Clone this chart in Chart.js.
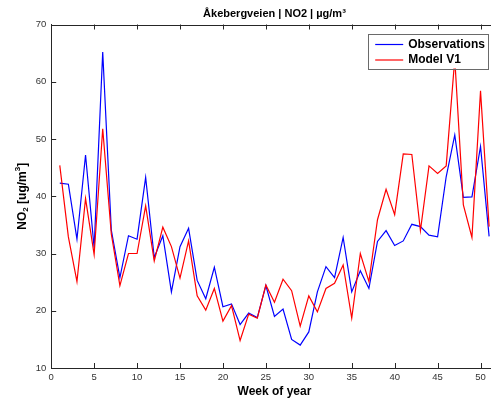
<!DOCTYPE html>
<html>
<head>
<meta charset="utf-8">
<script src="https://cdn.jsdelivr.net/npm/chart.js@4.4.1/dist/chart.umd.min.js"></script>
<style>
  html, body { margin: 0; padding: 0; background: #fff; overflow: hidden; }
  #wrap { width: 500px; height: 402px; }
</style>
</head>
<body>
<div id="wrap"><canvas id="c" width="500" height="402"></canvas></div>
<script>
// weekly NO2 means, Åkebergveien
const weeks = [1,2,3,4,5,6,7,8,9,10,11,12,13,14,15,16,17,18,19,20,21,22,23,24,25,26,
  27,28,29,30,31,32,33,34,35,36,37,38,39,40,41,42,43,44,45,46,47,48,49,50,51];
const observations = [42.3,42.1,32.5,47.2,31.0,65.2,34.1,25.8,33.1,32.5,43.3,29.3,33.1,23.3,31.2,34.4,
  25.3,22.1,27.6,20.7,21.2,17.6,19.6,18.8,24.4,19.0,20.3,15.0,14.0,16.3,23.3,27.7,25.8,32.8,
  23.3,27.0,23.9,32.1,34.0,31.4,32.2,35.1,34.7,33.2,32.9,43.4,50.7,39.8,39.9,48.7,33.0];
const modelV1 = [45.4,32.9,25.1,39.6,29.8,51.8,33.4,24.4,30.0,30.0,38.3,28.7,34.6,31.2,25.7,32.2,
  22.6,20.1,23.9,18.2,20.9,14.8,19.4,18.7,24.5,21.5,25.5,23.5,17.3,22.6,19.8,23.9,24.8,28.0,
  18.7,30.0,25.1,35.9,41.2,36.8,47.4,47.3,34.0,45.3,44.0,45.3,64.0,38.5,32.8,58.4,34.7];
const seriesNames = ['Observations', 'Model V1'];

const toXY = (vals) => vals.map((v, i) => ({x: weeks[i], y: v}));
const axisColor = '#262626';

// matlab style: box on top, ticks pointing inward
const boxTicks = {
  id: 'boxTicks',
  afterDraw(chart) {
    const {ctx, chartArea: a, scales: {x, y}} = chart;
    ctx.save();
    ctx.strokeStyle = axisColor;
    ctx.lineWidth = 1;
    ctx.beginPath();
    ctx.moveTo(a.left, Math.round(a.top) + 0.5);
    ctx.lineTo(a.right, Math.round(a.top) + 0.5);
    x.ticks.forEach(t => {
      const px = Math.round(x.getPixelForValue(t.value)) + 0.5;
      ctx.moveTo(px, a.bottom); ctx.lineTo(px, a.bottom - 5);
      ctx.moveTo(px, a.top); ctx.lineTo(px, a.top + 5);
    });
    y.ticks.forEach(t => {
      const py = Math.round(y.getPixelForValue(t.value)) + 0.5;
      ctx.moveTo(a.left, py); ctx.lineTo(a.left + 5, py);
    });
    ctx.stroke();

    // legend box inside the axes, top right
    const w = 120, h = 35;
    const lx = a.right - 9.5 - w, ly = a.top + 9;
    ctx.fillStyle = '#fff';
    ctx.fillRect(lx, ly, w, h);
    ctx.strokeStyle = '#6a6a6a';
    ctx.strokeRect(Math.round(lx) + 0.5, Math.round(ly) + 0.5, w, h);
    ctx.font = 'bold 12px "Liberation Sans", Arial, sans-serif';
    ctx.textBaseline = 'middle';
    chart.data.datasets.forEach((ds, i) => {
      const ry = ly + 11 + i * 15.5;
      ctx.strokeStyle = ds.borderColor;
      ctx.lineWidth = 1.2;
      ctx.beginPath();
      ctx.moveTo(lx + 7, ry); ctx.lineTo(lx + 35, ry);
      ctx.stroke();
      ctx.fillStyle = '#000';
      ctx.fillText(ds.label, lx + 40, ry);
    });

    // y label with sub/superscript
    const cy = (a.top + a.bottom) / 2;
    ctx.translate(23, cy);
    ctx.rotate(-Math.PI / 2);
    const big = 'bold 12px "Liberation Sans", Arial, sans-serif';
    const small = 'bold 8px "Liberation Sans", Arial, sans-serif';
    const parts = [['NO', big, 0], ['2', small, 3], [' [ug/m', big, 0], ['3', small, -5], [']', big, 0]];
    let total = 0;
    parts.forEach(p => { ctx.font = p[1]; total += ctx.measureText(p[0]).width; });
    let cx = -total / 2;
    ctx.fillStyle = '#000';
    ctx.textBaseline = 'middle';
    parts.forEach(p => {
      ctx.font = p[1];
      ctx.fillText(p[0], cx, p[2]);
      cx += ctx.measureText(p[0]).width;
    });
    ctx.restore();
  }
};

new Chart(document.getElementById('c'), {
  type: 'line',
  data: {
    datasets: [
      { label: seriesNames[0], data: toXY(observations), borderColor: '#0000ff', borderWidth: 1.2,
        pointRadius: 0, tension: 0, order: 2 },
      { label: seriesNames[1], data: toXY(modelV1), borderColor: '#ff0000', borderWidth: 1.2,
        pointRadius: 0, tension: 0, order: 1 }
    ]
  },
  options: {
    responsive: false,
    animation: false,
    devicePixelRatio: 1,
    layout: { padding: { left: 0, right: 2.3, top: 0, bottom: 0 } },
    plugins: {
      legend: { display: false },
      tooltip: { enabled: false },
      title: {
        display: true,
        fullSize: false,
        text: 'Åkebergveien | NO2 | µg/m³',
        color: '#000',
        font: { family: '"Liberation Sans", Arial, sans-serif', size: 11, weight: 'bold' },
        padding: { top: 7, bottom: 4.3 }
      }
    },
    scales: {
      x: {
        type: 'linear',
        min: 0, max: 52,
        afterFit: (s) => { s.height = 34; },
        grid: { display: false, drawTicks: false },
        border: { display: true, color: axisColor, width: 1 },
        ticks: {
          stepSize: 5, includeBounds: false, padding: 4, maxRotation: 0,
          color: '#333', font: { family: '"Liberation Sans", Arial, sans-serif', size: 9.5 }
        },
        title: {
          display: true, text: 'Week of year', color: '#000',
          font: { family: '"Liberation Sans", Arial, sans-serif', size: 12, weight: 'bold' },
          padding: { top: 0, bottom: 3 }
        }
      },
      y: {
        min: 10, max: 70,
        afterFit: (s) => { s.width = 51.2; },
        grid: { display: false, drawTicks: false },
        border: { display: true, color: axisColor, width: 1 },
        ticks: {
          stepSize: 10, padding: 5,
          color: '#333', font: { family: '"Liberation Sans", Arial, sans-serif', size: 9.5 }
        }
      }
    }
  },
  plugins: [boxTicks]
});
</script>
</body>
</html>
